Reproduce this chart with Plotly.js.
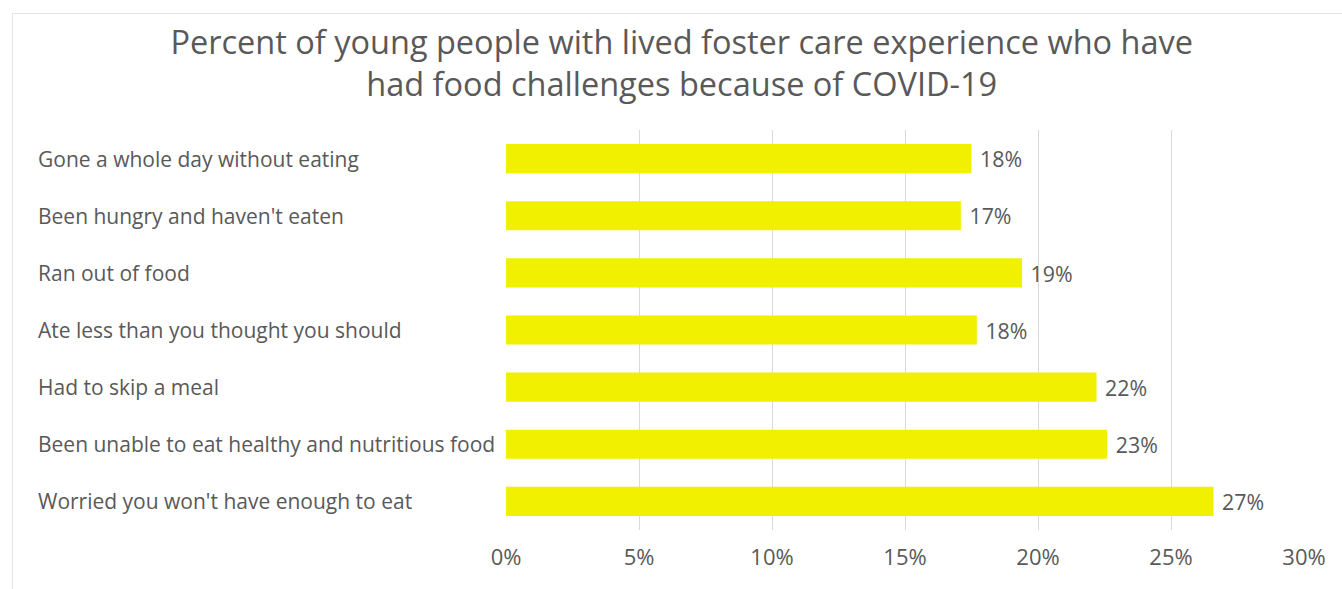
<!DOCTYPE html>
<html>
<head>
<meta charset="utf-8">
<script src="https://cdn.plot.ly/plotly-3.0.1.min.js"></script>
<style>
  html, body { margin: 0; padding: 0; background: #ffffff; }
  #frame { position: absolute; left: 12px; top: 13px; width: 1330px; height: 576px; border-left: 1px solid #e3e3e3; border-top: 1px solid #e3e3e3; box-sizing: border-box; }
  #chart { position: absolute; left: 0; top: 0; width: 1342px; height: 589px; }
</style>
</head>
<body>
<div id="frame"></div>
<div id="chart"></div>
<script>
const categories = [
  "Gone a whole day without eating",
  "Been hungry and haven't eaten",
  "Ran out of food",
  "Ate less than you thought you should",
  "Had to skip a meal",
  "Been unable to eat healthy and nutritious food",
  "Worried you won't have enough to eat"
];
const values = [17.5, 17.1, 19.4, 17.7, 22.2, 22.6, 26.6];
const valueLabels = ["18%", "17%", "19%", "18%", "22%", "23%", "27%"];
const tickValues = [0, 5, 10, 15, 20, 25, 30];
const tickLabels = ["0%", "5%", "10%", "15%", "20%", "25%", "30%"];
const titleLines = [
  "Percent of young people with lived foster care experience who have",
  "had food challenges because of COVID-19"
];

const textColor = "#595959";
const fontFamily = "'Open Sans', 'Noto Sans', sans-serif";

const trace = {
  type: "bar",
  orientation: "h",
  x: values,
  y: categories,
  text: valueLabels,
  texttemplate: "\u00a0%{text}",
  textposition: "outside",
  cliponaxis: false,
  textfont: { family: fontFamily, size: 22, color: textColor },
  marker: { color: "#f0f000" },
  hoverinfo: "none"
};

const labelAnnotations = categories.map(c => ({
  text: c,
  xref: "paper",
  yref: "y",
  x: -0.589,
  y: c,
  xanchor: "left",
  yanchor: "middle",
  showarrow: false,
  font: { family: fontFamily, size: 21, color: textColor }
}));

const layout = {
  width: 1342,
  height: 589,
  paper_bgcolor: "rgba(0,0,0,0)",
  plot_bgcolor: "rgba(0,0,0,0)",
  margin: { l: 506, r: 38, t: 130, b: 59 },
  showlegend: false,
  bargap: 0.49,
  title: {
    text: titleLines.join("<br>"),
    x: 0.508,
    xref: "container",
    xanchor: "center",
    y: 1 - 54 / 589,
    yref: "container",
    yanchor: "middle",
    font: { family: fontFamily, size: 32.5, color: textColor }
  },
  xaxis: {
    range: [0, 30],
    tickvals: tickValues,
    ticktext: tickLabels,
    showgrid: true,
    gridcolor: "#d9d9d9",
    gridwidth: 1,
    zeroline: false,
    showline: false,
    ticks: "",
    ticklabelstandoff: 12,
    tickfont: { family: fontFamily, size: 22, color: textColor },
    fixedrange: true
  },
  yaxis: {
    autorange: "reversed",
    showticklabels: false,
    showgrid: false,
    zeroline: false,
    showline: false,
    ticks: "",
    fixedrange: true
  },
  annotations: labelAnnotations
};

Plotly.newPlot("chart", [trace], layout, { displayModeBar: false, staticPlot: true });
</script>
</body>
</html>
